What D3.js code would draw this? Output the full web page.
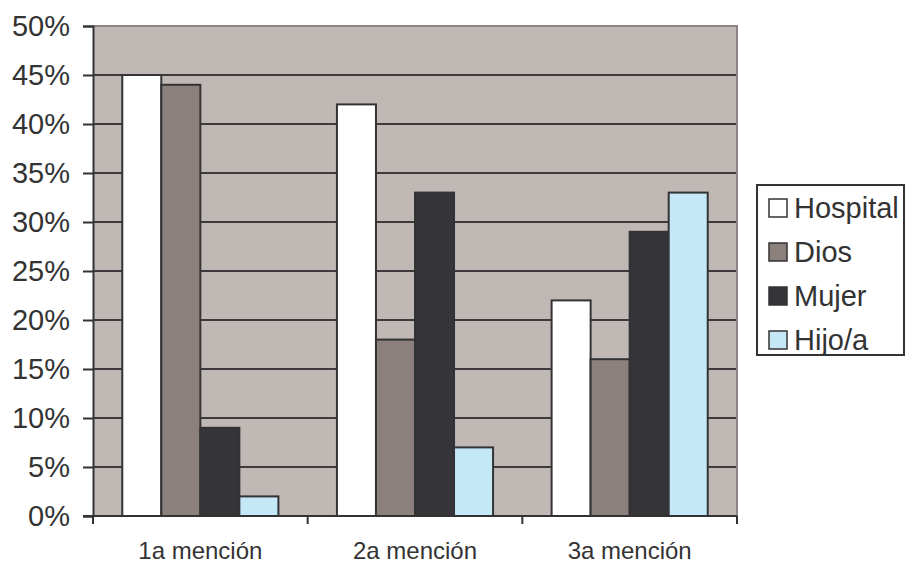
<!DOCTYPE html>
<html>
<head>
<meta charset="utf-8">
<script src="https://cdn.jsdelivr.net/npm/d3@7"></script>
<style>
  html, body { margin: 0; padding: 0; background: #fff; overflow: hidden; }
  svg { display: block; }
  svg text { font-family: Arial, "Liberation Sans", Helvetica, sans-serif; fill: #333; }
</style>
</head>
<body>
<svg id="chart" width="905" height="563"></svg>
<script>
const categories = ["1a mención", "2a mención", "3a mención"];
const seriesNames = ["Hospital", "Dios", "Mujer", "Hijo/a"];
const hospital = [45, 42, 22];
const dios = [44, 18, 16];
const mujer = [9, 33, 29];
const hijo = [2, 7, 33];
const yTicks = [0, 5, 10, 15, 20, 25, 30, 35, 40, 45, 50];
const colors = ["#ffffff", "#8c807c", "#353438", "#c5e8f7"];

const seriesValues = [hospital, dios, mujer, hijo];

const svg = d3.select("#chart");
const L = 93, R = 737, T = 26, B = 516;

const x0 = d3.scaleBand().domain(categories).range([L, R]).padding(0);
const x1 = d3.scaleBand().domain(seriesNames).range([0, x0.bandwidth()]).paddingInner(0).paddingOuter(0.75);
const y = d3.scaleLinear().domain([0, 50]).range([B, T]);

// plot background
svg.append("rect").attr("x", L).attr("y", T).attr("width", R - L).attr("height", B - T)
  .attr("fill", "#c0b8b5");

// gridlines
svg.append("g").selectAll("line").data(yTicks.filter(d => d > 0 && d < 50)).join("line")
  .attr("x1", L).attr("x2", R).attr("y1", d => y(d)).attr("y2", d => y(d))
  .attr("stroke", "#3c3a3c").attr("stroke-width", 2);

// top & right border
svg.append("path")
  .attr("d", `M${L},${y(50)}H${R}V${B}`)
  .attr("fill", "none").attr("stroke", "#8e8481").attr("stroke-width", 2);

// bars
const groups = svg.append("g").selectAll("g").data(categories).join("g")
  .attr("transform", d => `translate(${x0(d)},0)`);
groups.selectAll("rect").data((c, ci) => seriesNames.map((s, si) => ({ s, si, v: seriesValues[si][ci] })))
  .join("rect")
  .attr("x", d => x1(d.s))
  .attr("width", x1.bandwidth())
  .attr("y", d => y(d.v))
  .attr("height", d => y(0) - y(d.v))
  .attr("fill", d => colors[d.si])
  .attr("stroke", "#333336").attr("stroke-width", 2);

// y axis
const yAxis = svg.append("g").attr("transform", `translate(${L},0)`)
  .call(d3.axisLeft(y).tickValues(yTicks).tickSize(10).tickPadding(13).tickFormat(d => d + "%"));
yAxis.select(".domain").attr("stroke", "#333").attr("stroke-width", 2);
yAxis.selectAll(".tick line").attr("stroke", "#333").attr("stroke-width", 2);
yAxis.selectAll(".tick text").attr("font-size", 29).attr("fill", "#333")
  .style("font-family", "Arial, 'Liberation Sans', sans-serif");

// x axis
svg.append("line").attr("x1", L - 10).attr("x2", R).attr("y1", B).attr("y2", B)
  .attr("stroke", "#333").attr("stroke-width", 2);
const bounds = categories.map(c => x0(c)).concat([x0(categories[categories.length - 1]) + x0.bandwidth()]);
svg.append("g").selectAll("line").data(bounds).join("line")
  .attr("x1", d => d).attr("x2", d => d).attr("y1", B).attr("y2", B + 8)
  .attr("stroke", "#333").attr("stroke-width", 2);
svg.append("g").selectAll("text").data(categories).join("text")
  .attr("x", d => x0(d) + x0.bandwidth() / 2)
  .attr("y", 559)
  .attr("text-anchor", "middle")
  .attr("font-size", 24)
  .text(d => d);

// legend
const lg = svg.append("g");
lg.append("rect").attr("x", 757).attr("y", 185).attr("width", 147).attr("height", 170)
  .attr("fill", "#fff").attr("stroke", "#333").attr("stroke-width", 2);
const legendY = d3.scalePoint().domain(seriesNames).range([208, 340]);
const items = lg.selectAll("g").data(seriesNames).join("g")
  .attr("transform", d => `translate(0,${legendY(d)})`);
items.append("rect").attr("x", 769).attr("y", -9).attr("width", 18).attr("height", 18)
  .attr("fill", (d, i) => colors[i]).attr("stroke", "#333").attr("stroke-width", 1.5);
items.append("text").attr("x", 794).attr("y", 0).attr("dy", "0.36em")
  .attr("font-size", 29).text(d => d);
</script>
</body>
</html>
